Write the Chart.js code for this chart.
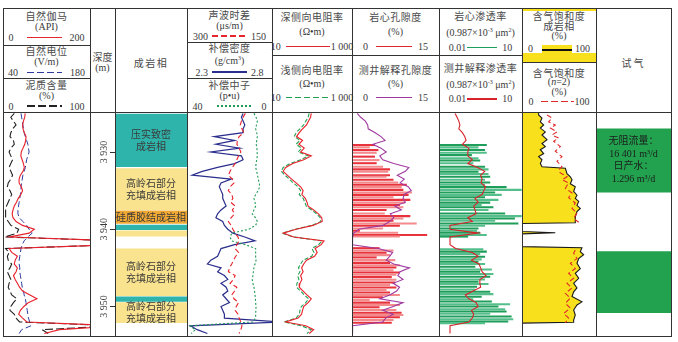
<!DOCTYPE html>
<html><head><meta charset="utf-8">
<script src="https://cdn.jsdelivr.net/npm/chart.js@4.4.0/dist/chart.umd.min.js"></script>
<style>
html,body{margin:0;padding:0;background:#fff;}
#root{position:relative;width:678px;height:342px;overflow:hidden;font-family:"Liberation Serif","Noto Sans CJK SC",serif;color:#3a3a3a;}
.cell{position:absolute;box-sizing:border-box;display:flex;flex-direction:column;align-items:center;justify-content:center;font-size:10px;line-height:11px;text-align:center;white-space:nowrap;}
.cell .t{font-family:"Noto Sans CJK SC",sans-serif;letter-spacing:0.5px;color:#4a4a4a;}
.l15{line-height:15px;}
.l14{line-height:14px;}
.l10{line-height:9.6px;}
.lg{display:flex;align-items:center;justify-content:center;}
.lg i{display:block;height:1.4px;margin:0 4px;}
.hl{position:absolute;background:#333;}
canvas{position:absolute;}
</style></head>
<body>
<div id="root">
  <!-- track 1 header -->
  <div class="cell" style="left:3px;top:8px;width:87px;height:37px">
    <div class="t">自然伽马</div><div>(API)</div>
    <div class="lg"><span>0</span><i style="width:35px;margin:0 8px 0 13px;background:#e5262d"></i><span>200</span></div>
  </div>
  <div class="cell" style="left:3px;top:45px;width:87px;height:33px">
    <div class="t">自然电位</div><div>(V/m)</div>
    <div class="lg"><span>40</span><i style="width:35px;margin:0 8px 0 9px;background:repeating-linear-gradient(90deg,#2f3b9c 0 7px,transparent 7px 10px)"></i><span>180</span></div>
  </div>
  <div class="cell" style="left:3px;top:78px;width:87px;height:34px">
    <div class="t">泥质含量</div><div>(%)</div>
    <div class="lg"><span>0</span><i style="width:35px;margin:0 8px 0 13px;background:repeating-linear-gradient(90deg,#222 0 8px,transparent 8px 11px)"></i><span>100</span></div>
  </div>
  <!-- depth / facies header -->
  <div class="cell" style="left:90px;top:8px;width:25px;height:104px;padding-top:4px">
    <div class="t" style="letter-spacing:0">深度</div><div>(m)</div>
  </div>
  <div class="cell" style="left:115px;top:8px;width:72px;height:104px;padding-top:4px">
    <div class="t" style="letter-spacing:1.5px">成岩相</div>
  </div>
  <!-- track 3 header -->
  <div class="cell" style="left:187px;top:8px;width:85px;height:34px">
    <div class="t">声波时差</div><div>(μs/m)</div>
    <div class="lg"><span>300</span><i style="width:35px;background:repeating-linear-gradient(90deg,#e5262d 0 6px,transparent 6px 9px)"></i><span>150</span></div>
  </div>
  <div class="cell" style="left:187px;top:42px;width:85px;height:36px">
    <div class="t">补偿密度</div><div>(g/cm<sup style="font-size:6px">3</sup>)</div>
    <div class="lg"><span>2.3</span><i style="width:35px;background:#2a2e8c"></i><span>2.8</span></div>
  </div>
  <div class="cell" style="left:187px;top:78px;width:85px;height:34px">
    <div class="t">补偿中子</div><div>(p•u)</div>
    <div class="lg"><span>40</span><i style="width:35px;margin:0 10px 0 14px;background:repeating-linear-gradient(90deg,#1f9a55 0 2px,transparent 2px 4px)"></i><span>0</span></div>
  </div>
  <!-- track 4 header -->
  <div class="cell l15" style="left:272px;top:8px;width:80px;height:47px">
    <div class="t">深侧向电阻率</div><div>(Ω•m)</div>
    <div class="lg"><span>10</span><i style="width:44px;margin:0 1px 0 5px;background:#e5262d"></i><span>1 000</span></div>
  </div>
  <div class="cell l14" style="left:272px;top:55px;width:80px;height:57px">
    <div class="t">浅侧向电阻率</div><div>(Ω•m)</div>
    <div class="lg"><span>10</span><i style="width:44px;margin:0 1px 0 5px;background:repeating-linear-gradient(90deg,#22a050 0 6px,transparent 6px 9px)"></i><span>1 000</span></div>
  </div>
  <!-- track 5 header -->
  <div class="cell l15" style="left:352px;top:8px;width:87px;height:47px">
    <div class="t">岩心孔隙度</div><div>(%)</div>
    <div class="lg"><span>0</span><i style="width:36px;margin:0 6px 0 8px;background:#e5262d"></i><span>15</span></div>
  </div>
  <div class="cell l14" style="left:352px;top:55px;width:87px;height:57px">
    <div class="t">测井解释孔隙度</div><div>(%)</div>
    <div class="lg"><span>0</span><i style="width:36px;margin:0 6px 0 8px;background:#a03aa0"></i><span>15</span></div>
  </div>
  <!-- track 6 header -->
  <div class="cell l15" style="left:439px;top:8px;width:83px;height:47px">
    <div class="t">岩心渗透率</div><div>(0.987×10<sup style="font-size:6px">-3</sup> μm<sup style="font-size:6px">2</sup>)</div>
    <div class="lg"><span>0.01</span><i style="width:30px;margin:0 5px 0 1px;background:#1e9e5a"></i><span>10</span></div>
  </div>
  <div class="cell l14" style="left:439px;top:55px;width:83px;height:57px">
    <div class="t">测井解释渗透率</div><div>(0.987×10<sup style="font-size:6px">-3</sup> μm<sup style="font-size:6px">2</sup>)</div>
    <div class="lg"><span>0.01</span><i style="width:30px;margin:0 5px 0 1px;background:#d8222a"></i><span>10</span></div>
  </div>
  <!-- track 7 header -->
  <div style="position:absolute;left:522px;top:8px;width:74px;height:3px;background:#f8e11c"></div>
  <div style="position:absolute;left:522px;top:53px;width:74px;height:9px;background:#f8e11c"></div>
  <div class="cell" style="left:522px;top:8px;width:74px;height:45px;justify-content:flex-start;padding-top:3px;line-height:10px">
    <div class="t">含气饱和度</div><div class="t">成岩相</div><div>(%)</div>
    <div class="lg" style="height:13px;margin-top:1px"><span>0</span><span style="display:flex;align-items:center;width:30px;height:10px;margin:3px 3px 0 9px;background:#f8e11c"><i style="width:30px;height:1.2px;margin:0;background:#111"></i></span><span>100</span></div>
  </div>
  <div class="cell l10" style="left:522px;top:62px;width:74px;height:50px">
    <div class="t">含气饱和度</div><div>(<i>n</i>=2)</div><div>(%)</div>
    <div class="lg"><span>0</span><i style="width:33px;margin:0 1px 0 7px;background:repeating-linear-gradient(90deg,#e02a2a 0 7px,transparent 7px 10px)"></i><span>100</span></div>
  </div>
  <!-- test header -->
  <div class="cell" style="left:596px;top:8px;width:75px;height:104px;padding-top:4px">
    <div class="t" style="letter-spacing:2px">试气</div>
  </div>
</div>
<script>
// ---------------- data ----------------
const DEPTH_MIN = 3924.95, DEPTH_MAX = 3953.82;
const DEPTH_TICKS = [3930, 3940, 3950];
const DEPTH = [3925.0,3925.5,3926.0,3926.5,3927.0,3927.5,3928.0,3928.5,3929.0,3929.5,3930.0,3930.5,3931.0,3931.5,3932.0,3932.5,3933.0,3933.5,3934.0,3934.5,3935.0,3935.5,3936.0,3936.5,3937.0,3937.5,3938.0,3938.5,3939.0,3939.5,3940.0,3940.5,3941.0,3941.5,3942.0,3942.5,3943.0,3943.5,3944.0,3944.5,3945.0,3945.5,3946.0,3946.5,3947.0,3947.5,3948.0,3948.5,3949.0,3949.5,3950.0,3950.5,3951.0,3951.5,3952.0,3952.5,3953.0,3953.5];
const GR  = [51,50,47,45,46,49,53,52,50,46,42,41,44,47,49,46,40,37,37,42,45,41,35,31,26,23,21,23,30,45,72,60,15,260,260,14,20,33,28,26,33,30,24,28,33,38,45,62,78,58,48,40,36,45,55,260,130,95];
const SP  = [69,70,71,72,73,74,76,78,80,81,82,80,78,77,76,74,72,71,70,69,69,68,67,66,65,64,64,66,72,78,82,87,80,74,71,69,68,67,66,66,67,67,68,69,70,71,73,74,76,77,78,79,80,81,83,85,70,66];
const VSH = [13,9,12,15,11,9,8,12,13,9,7,9,11,9,7,9,11,9,6,5,8,10,8,6,4,3,3,3,6,9,18,16,2,130,130,3,7,5,6,10,8,5,7,9,7,6,8,10,16,12,9,8,13,15,19,130,45,52];
const AC  = [197,201,204,206,203,200,208,211,212,208,205,209,212,215,220,224,227,220,217,224,227,221,219,223,215,220,216,222,227,222,219,215,210,208,212,215,209,214,218,221,225,227,215,218,224,212,216,221,217,209,213,215,210,208,205,203,205,208];
const DEN = [2.63,2.62,2.63,2.64,2.63,2.63,2.46,2.58,2.47,2.61,2.44,2.62,2.63,2.58,2.48,2.39,2.33,2.56,2.50,2.49,2.50,2.51,2.51,2.52,2.53,2.50,2.48,2.47,2.51,2.52,2.54,2.57,2.64,2.70,2.58,2.50,2.49,2.48,2.44,2.42,2.50,2.48,2.52,2.54,2.50,2.53,2.54,2.51,2.53,2.55,2.50,2.51,2.52,2.52,2.85,2.32,2.36,2.42];
const CNL = [8.5,7.5,6.9,7.3,7.7,7.2,6.9,7.2,7.4,7.1,7.0,6.9,7.2,7.5,7.7,7.2,6.8,6.5,6.0,5.8,6.5,7.7,8.5,8.0,7.7,8.5,9.3,7.8,6.9,7.7,10.9,18.9,19.7,19.0,12.5,7.7,7.7,7.7,7.5,8.0,8.5,8.8,9.0,9.3,9.0,8.5,8.2,8.0,7.8,7.7,7.5,7.6,7.7,7.7,9.0,39,36,38];
const RD  = [96,92,82,73,58,48,41,58,47,64,52,96,62,33,22,19,24,31,40,52,60,56,68,75,80,110,145,175,180,106,40,19,35,200,170,120,135,116,73,62,55,60,52,56,50,48,60,75,96,80,62,58,55,45,22,70,110,85];
const RS  = [85,80,70,62,50,40,36,50,40,55,45,82,52,28,19,17,21,27,34,45,52,48,60,66,72,98,130,160,165,100,38,18,33,180,145,100,112,98,60,52,46,50,44,47,42,41,52,64,82,70,54,50,48,40,20,55,95,75];
const PHI_LOG = [0.9,1.5,2.3,2.7,2.8,4.0,5.0,5.7,3.6,5.0,5.9,4.8,5.3,7.2,9.8,9.2,7.8,9.0,8.3,9.7,10.2,9.0,8.8,9.2,7.4,8.5,6.6,7.2,6.5,5.3,1.2,0.3,0.1,0.1,0.1,4.5,7.0,6.5,5.9,7.2,9.9,8.3,7.9,8.8,7.1,8.2,7.7,6.5,4.8,8.8,7.1,5.3,7.1,5.8,5.3,0.1,0.1,0.1];
const K_LOG = [0.038,0.045,0.052,0.057,0.052,0.07,0.085,0.095,0.07,0.12,0.11,0.11,0.16,0.11,0.25,0.45,0.32,0.36,0.33,0.48,0.42,0.36,0.2,0.26,0.18,0.2,0.22,0.11,0.16,0.025,0.025,0.26,0.025,0.025,0.025,0.04,0.16,0.26,0.15,0.28,0.32,0.36,0.5,0.3,0.3,0.32,0.17,0.09,0.12,0.22,0.26,0.15,0.18,0.16,0.12,0.025,0.025,0.025];

const CORE_PHI_DEPTH = [3929.1,3929.4,3929.75,3930.1,3930.6,3931.05,3931.45,3931.9,3932.25,3932.55,3933.0,3933.2,3933.6,3933.95,3934.25,3934.55,3934.9,3935.25,3935.55,3935.85,3936.2,3936.55,3936.85,3937.15,3937.5,3937.95,3938.3,3938.6,3938.9,3939.25,3939.55,3939.9,3940.2,3940.45,3940.75,3940.95,3942.45,3942.75,3943.05,3943.35,3943.65,3944.0,3944.35,3944.65,3944.95,3945.3,3945.6,3945.9,3946.2,3946.55,3946.9,3947.2,3947.55,3947.85,3948.2,3948.5,3948.8,3949.15,3949.5,3949.8,3950.1,3950.45,3950.8,3951.1,3951.4,3951.75,3952.1];
const CORE_PHI = [3.9,3.0,4.5,4.2,3.9,4.7,4.2,5.3,6.5,6.2,6.5,5.9,7.1,7.9,9.4,8.5,8.8,10.3,9.7,7.1,10.0,9.1,8.2,8.8,5.9,5.6,10.0,8.8,7.1,11.1,8.2,5.3,1.3,7.9,12.9,8.2,4.7,7.1,5.9,6.5,4.2,7.4,6.5,8.2,7.6,7.1,8.2,7.6,6.8,7.6,7.4,6.5,7.6,5.9,6.5,8.2,5.3,3.0,6.5,8.2,4.7,7.6,8.5,8.8,8.2,7.1,6.8];

const CORE_K_DEPTH = [3929.1,3929.4,3929.75,3930.1,3930.4,3930.8,3931.1,3931.45,3931.9,3932.25,3932.55,3932.85,3933.2,3933.6,3933.95,3934.25,3934.55,3934.9,3935.25,3935.55,3935.85,3936.2,3936.55,3936.85,3937.15,3937.5,3937.95,3938.3,3938.6,3938.9,3939.25,3939.55,3939.9,3940.2,3940.45,3940.75,3940.95,3942.6,3942.9,3943.2,3943.55,3943.9,3944.2,3944.5,3944.85,3945.2,3945.5,3945.8,3946.15,3946.5,3946.8,3947.1,3947.45,3947.8,3948.1,3948.4,3948.75,3949.05,3949.35,3949.7,3950.0,3950.35,3950.65,3950.95,3951.3,3951.65,3951.95,3952.15];
const CORE_K = [0.52,0.26,0.45,0.52,0.15,0.26,0.30,0.17,0.45,0.60,0.26,0.60,0.69,0.45,0.69,0.45,2.7,9.5,1.04,1.8,0.45,1.37,0.69,0.34,0.90,0.60,2.4,9.5,5.4,1.04,7.2,0.45,0.26,0.23,0.30,0.52,0.11,0.39,0.52,0.30,0.45,0.34,0.26,0.45,0.20,0.79,0.30,0.90,0.69,0.45,0.26,0.60,0.23,0.20,0.69,0.90,0.34,0.17,0.79,3.6,1.37,2.4,2.7,0.69,4.1,4.7,3.1,0.45];

const SG_DEPTH = [3924.95,3925.2,3925.6,3926.1,3926.5,3926.9,3927.4,3927.8,3928.4,3928.9,3929.3,3929.7,3930.2,3930.6,3931.0,3931.5,3931.9,3932.1,3932.8,3933.2,3933.6,3934.1,3934.5,3935.1,3935.6,3936.0,3936.4,3936.9,3937.3,3937.7,3938.4,3939.0,3939.15,3939.25,3940.3,3940.45,3940.6,3942.25,3942.4,3942.9,3943.3,3943.8,3944.4,3945.1,3945.7,3946.35,3947.0,3947.6,3948.1,3948.7,3949.4,3949.8,3950.45,3951.1,3951.75,3952.05,3952.15,3953.82];
const SG = [22.5,22.5,27,24.8,29.3,24.8,31.5,27,33.8,27,31.5,24.8,29.3,22.5,27,24.8,27,58.6,60.8,65.3,67.6,65.3,72,69.8,74.3,72,76.6,74.3,78.8,74.3,72,72,72,0,0,45,0,0,81,78.8,83.3,76.6,74.3,78.8,72,76.6,69.8,74.3,69.8,67.6,81,74.3,69.8,72,69.8,69.8,0,0];
const SG2_DEPTH = [3925.2,3925.6,3926.1,3926.5,3926.9,3927.4,3927.8,3928.2,3928.6,3929.3,3929.9,3930.6,3931.2,3931.9,3932.3,3932.7,3933.2,3933.6,3934.0,3934.7,3935.3,3935.9,3936.6,3937.3,3937.9,3938.6,3939.1,3940.0,3942.7,3943.1,3943.8,3944.4,3945.1,3945.7,3946.35,3947.0,3947.6,3948.3,3948.9,3949.6,3950.2,3950.9,3951.5,3952.1];
const SG2 = [33.8,40.5,36,45,38.3,47.3,40.5,49.5,42.8,51.8,45,54,47.3,54,49.5,51.8,60.8,54,63,58.6,67.6,63,72,67.6,74.3,69.8,76.6,null,72,69.8,74.3,65.3,72,63,69.8,60.8,67.6,58.6,65.3,58.6,65.3,56.3,63,58.6];

const FACIES_TOP  = [3925.1, 3932.15, 3937.6, 3939.45, 3940.2, 3942.55, 3948.75, 3949.5];
const FACIES_BASE = [3931.9, 3937.45, 3939.25, 3940.05, 3940.9, 3948.6, 3949.35, 3952.1];
const FACIES_KIND = ['compact','kaolinite','silica','compact','kaolinite','kaolinite','compact','kaolinite'];
const FACIES_TEXT = ['压实致密\n成岩相','高岭石部分\n充填成岩相','硅质胶结成岩相','','','高岭石部分\n充填成岩相','','高岭石部分\n充填成岩相'];
const TEST_TOP  = [3927.0, 3942.9];
const TEST_BASE = [3935.2, 3950.8];
const TEST_TEXT = ['无阻流量：\n16 401 m³/d\n日产水：\n1.296 m³/d', ''];

// ---------------- layout / style ----------------
const FACIES_COLOR = {compact:'#2fb4ab', kaolinite:'#f9e38e', silica:'#f1a934'};
const BODY_TOP = 113, BODY_H = 223;
const root = document.getElementById('root');
Chart.defaults.font.family = '"Liberation Serif","Noto Sans CJK SC",serif';

function addCanvas(left, width) {
  const c = document.createElement('canvas');
  c.width = width; c.height = BODY_H;
  c.style.left = left + 'px'; c.style.top = BODY_TOP + 'px';
  c.style.width = width + 'px'; c.style.height = BODY_H + 'px';
  root.appendChild(c);
  return c.getContext('2d');
}
function yScale(extra) {
  return Object.assign({type:'linear', display:false, reverse:true, offset:false, min:DEPTH_MIN, max:DEPTH_MAX}, extra || {});
}
function curve(depths, vals, color, dash, width, extra) {
  return Object.assign({
    type:'line', data: depths.map((d, i) => ({x: vals[i], y: d})),
    borderColor: color, borderWidth: width || 1.1, borderDash: dash || [],
    pointRadius: 0, fill: false, tension: 0
  }, extra || {});
}
function baseOptions(scales) {
  return {
    responsive:false, animation:false, indexAxis:'y', events:[],
    layout:{padding:0},
    plugins:{legend:{display:false}, tooltip:{enabled:false}},
    scales: Object.assign({y: yScale()}, scales)
  };
}
function track(left, width, type, datasets, scales) {
  return new Chart(addCanvas(left, width), {type, data:{datasets}, options: baseOptions(scales)});
}
function xs(type, min, max, reverse) {
  return {type, axis:'x', display:false, offset:false, min, max, reverse: !!reverse};
}

// track 1: GR / SP / Vsh
track(3, 87, 'line', [
  curve(DEPTH, GR, '#e8202a', [], 1.1, {xAxisID:'x'}),
  curve(DEPTH, VSH, '#222222', [8,3], 1.1, {xAxisID:'xv'}),
  curve(DEPTH, SP, '#2f3b9c', [6,3], 1.0, {xAxisID:'xs'})
], {x: xs('linear', 0, 200), xv: xs('linear', 0, 100), xs: xs('linear', 40, 180)});

// depth axis + facies column
const faciesPlugin = {
  id:'faciesText',
  afterDatasetsDraw(chart) {
    const ctx = chart.ctx;
    ctx.save();
    ctx.fillStyle = '#3a3a3a';
    ctx.textAlign = 'center'; ctx.textBaseline = 'middle';
    ctx.font = '10px "Noto Sans CJK SC"';
    chart.data.datasets.forEach((ds, i) => {
      const txt = FACIES_TEXT[i];
      if (!txt) return;
      const el = chart.getDatasetMeta(i).data[0];
      const cy = (el.y + el.base) / 2;
      const lines = txt.split('\n');
      lines.forEach((t, k) => ctx.fillText(t, el.x, cy + (k - (lines.length - 1) / 2) * 12));
    });
    const ys = chart.scales.y;
    ctx.font = '10px "Liberation Serif"';
    DEPTH_TICKS.forEach(v => {
      const py = ys.getPixelForValue(v);
      ctx.save();
      ctx.translate(ys.right - 11, py);
      ctx.rotate(-Math.PI / 2);
      ctx.fillText(String(v).replace(/^(\d)(\d{3})$/, '$1 $2'), 0, 0);
      ctx.restore();
    });
    ctx.restore();
  }
};
new Chart(addCanvas(90, 97), {
  type:'bar',
  data:{labels:['f'], datasets: FACIES_TOP.map((t, i) => ({
    data:[[t, FACIES_BASE[i]]], backgroundColor: FACIES_COLOR[FACIES_KIND[i]],
    barPercentage:1, categoryPercentage:1, grouped:false, borderWidth:0
  }))},
  options:{
    responsive:false, animation:false, events:[], layout:{padding:0},
    plugins:{legend:{display:false}, tooltip:{enabled:false}},
    scales:{
      x:{type:'category', display:false},
      y: yScale({display:true, position:'left',
        afterFit: s => { s.width = 25; },
        afterBuildTicks: s => { s.ticks = DEPTH_TICKS.map(v => ({value:v})); },
        ticks:{display:false},
        grid:{drawOnChartArea:false, drawTicks:true, tickLength:5, color:'#333', lineWidth:1},
        border:{display:true, color:'#333'}
      })
    }
  },
  plugins:[faciesPlugin]
});

// track 3: AC / CNL / DEN
track(187, 85, 'line', [
  curve(DEPTH, AC, '#e8202a', [5,3], 1.1, {xAxisID:'xa'}),
  curve(DEPTH, CNL, '#1f9a55', [2,2], 1.1, {xAxisID:'xn'}),
  curve(DEPTH, DEN, '#2a2e8c', [], 1.2, {xAxisID:'xd'})
], {xa: xs('linear', 150, 300, true), xn: xs('linear', 0, 40, true), xd: xs('linear', 2.3, 2.8)});

// track 4: resistivity
track(272, 80, 'line', [
  curve(DEPTH, RD, '#e8202a', [], 1.1),
  curve(DEPTH, RS, '#22a050', [4,2], 1.1)
], {x: xs('logarithmic', 10, 1000)});

// track 5: porosity
track(352, 87, 'bar', [
  curve(DEPTH, PHI_LOG, '#a03aa0', [], 1.1),
  {type:'bar', data: CORE_PHI_DEPTH.map((d, i) => ({x: CORE_PHI[i], y: d})),
   backgroundColor: CORE_PHI.map((v, i) => i % 2 ? '#f38a8c' : '#e8333d'), barThickness:1.4, borderWidth:0}
], {x: xs('linear', 0, 15)});

// track 6: permeability
track(439, 83, 'bar', [
  curve(DEPTH, K_LOG, '#d8222a', [], 1.1),
  {type:'bar', data: CORE_K_DEPTH.map((d, i) => ({x: [0.01, CORE_K[i]], y: d})),
   backgroundColor: CORE_K.map((v, i) => i % 2 ? '#55bf8c' : '#1e9e5a'), barThickness:1.4, borderWidth:0}
], {x: xs('logarithmic', 0.01, 10)});

// track 7: gas saturation
track(522, 74, 'line', [
  curve(SG2_DEPTH, SG2, '#e02a2a', [5,3], 1.1),
  curve(SG_DEPTH, SG, '#1a1a1a', [], 1.1, {fill:{value:0}, backgroundColor:'#f8e11c'})
], {x: xs('linear', 0, 100)});

// gas test column
const testPlugin = {
  id:'testText',
  afterDatasetsDraw(chart) {
    const ctx = chart.ctx;
    ctx.save();
    ctx.fillStyle = '#1c1c1c'; ctx.textAlign = 'center'; ctx.textBaseline = 'middle';
    ctx.font = '10px "Liberation Serif","Noto Sans CJK SC"';
    chart.data.datasets.forEach((ds, i) => {
      const txt = TEST_TEXT[i];
      if (!txt) return;
      const el = chart.getDatasetMeta(i).data[0];
      const cy = (el.y + el.base) / 2;
      const lines = txt.split('\n');
      lines.forEach((t, k) => ctx.fillText(t, el.x, cy + (k - (lines.length - 1) / 2) * 12.7));
    });
    ctx.restore();
  }
};
new Chart(addCanvas(596, 75), {
  type:'bar',
  data:{labels:['t'], datasets: TEST_TOP.map((t, i) => ({
    data:[[t, TEST_BASE[i]]], backgroundColor:'#22a24f',
    barPercentage:1, categoryPercentage:1, grouped:false, borderWidth:0
  }))},
  options:{
    responsive:false, animation:false, events:[], layout:{padding:0},
    plugins:{legend:{display:false}, tooltip:{enabled:false}},
    scales:{x:{type:'category', display:false}, y: yScale()}
  },
  plugins:[testPlugin]
});

// ---------------- frame lines ----------------
function hl(x, y, w, h) {
  const d = document.createElement('div');
  d.className = 'hl';
  d.style.left = x + 'px'; d.style.top = y + 'px'; d.style.width = w + 'px'; d.style.height = h + 'px';
  root.appendChild(d);
}
[3, 90, 115, 187, 272, 352, 439, 522, 596, 671].forEach(x => hl(x, 8, 1, 329));
[8, 112, 336].forEach(y => hl(3, y, 669, 1));
hl(3, 45, 87, 1); hl(3, 78, 87, 1);
hl(187, 42, 85, 1); hl(187, 78, 85, 1);
hl(272, 55, 250, 1);
hl(522, 62, 74, 1);
</script>
</body></html>
